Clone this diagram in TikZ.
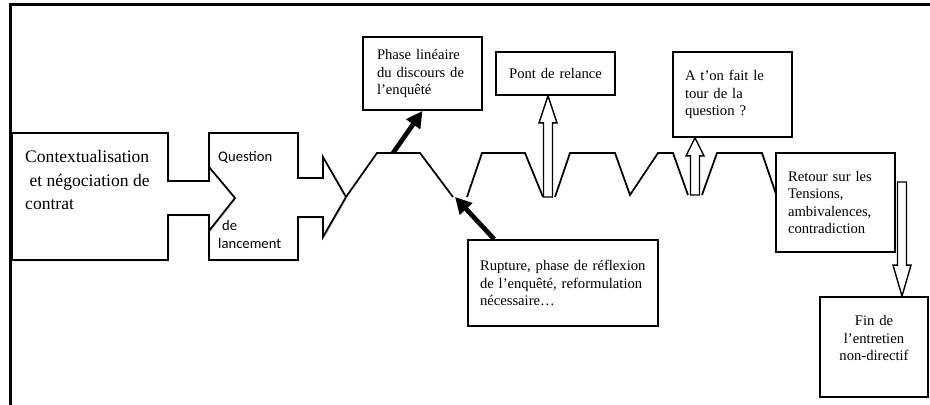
\documentclass[tikz,border=0pt]{standalone}
\usepackage{fontspec}
\setmainfont{Liberation Serif}
\newfontfamily\calibfont{Carlito}
\usetikzlibrary{arrows.meta,calc,shadows}
\tikzset{
  box/.style={draw, line width=1.5pt, fill=white, align=left, inner ysep=0pt,
    font=\fontsize{12.5}{15}\selectfont,
    drop shadow={shadow xshift=1.2pt, shadow yshift=-1.2pt, opacity=0.25}},
  callout/.style={draw, line width=1.5pt, fill=white, line join=miter,
    drop shadow={shadow xshift=1.2pt, shadow yshift=-1.2pt, opacity=0.25}},
  trace/.style={line width=1.5pt, line join=miter},
  blackarrow/.style={line width=4pt, -{Triangle[length=14pt,width=14pt]}},
  hollow/.style={line width=1.2pt, fill=white, line join=miter},
  frameline/.style={line width=2.6pt},
  qtext/.style={anchor=west, inner sep=0pt, font=\calibfont\fontsize{12.5}{15}\selectfont}
}
\newcommand{\hollowarrow}[3]{%
  \draw [hollow] ($(#1)+(-4.5,0)$) -- ($(#2)+(-4.5,#3)$) -- ($(#2)+(-9,#3)$) -- (#2)
    -- ($(#2)+(9,#3)$) -- ($(#2)+(4.5,#3)$) -- ($(#1)+(4.5,0)$) -- cycle ;}
\begin{document}
\begin{tikzpicture}[x=0.03cm, y=-0.03cm]
\useasboundingbox (0,0) rectangle (930,405) ;
\draw [frameline] (930,4.5) -- (10.5,4.5) -- (10.5,405) ;
\draw [callout] (209,133) -- (298,133) -- (298,178) -- (323,178) -- (323,157) -- (346,197) -- (323,237) -- (323,217) -- (298,217) -- (298,260) -- (209,260) -- cycle ;
\draw [callout] (12,133) -- (168,133) -- (168,181) -- (209,181) -- (209,167) -- (235,198) -- (209,231) -- (209,215) -- (168,215) -- (168,260) -- (12,260) -- cycle ;
\node [anchor=west, inner sep=0pt, align=left, font=\fontsize{15}{20}\selectfont] (ctx) at (25,180) {Contextualisation\\\ et négociation de\\contrat} ;
\node [qtext] (q1) at (218,157) {Question} ;
\node [qtext] (q2) at (222,225) {de} ;
\node [qtext] (q3) at (218,243) {lancement} ;
\coordinate (z1) at (393,153) ;
\coordinate (gap) at (455,197) ;
\coordinate (z2) at (548,197) ;
\coordinate (z3) at (695,195) ;
\coordinate (z4) at (902,182) ;
\draw [trace] (346,197) -- (377,153) -- (420,153) -- (453,197) ;
\draw [trace] (467,197) -- (482,153) -- (525,153) -- (543,197) ;
\draw [trace] (555,197) -- (570,153) -- (615,153) -- (630,195) -- (658,153) -- (673,153) -- (688,195) ;
\draw [trace] (702,195) -- (717,153) -- (762,153) -- (777,197) ;
\node [box, text width=2.73cm, inner xsep=0.42cm, minimum height=2.19cm] (phase) at (422.5,73.5) {Phase linéaire\\du discours de\\l’enquêté} ;
\node [box, text width=2.97cm, inner xsep=0.3cm, minimum height=1.29cm, align=center] (pont) at (555.5,73.5) {Pont de relance} ;
\node [box, text width=2.85cm, inner xsep=0.36cm, minimum height=2.55cm] (tour) at (732.5,94.5) {A t’on fait le\\tour de la\\question ?} ;
\node [box, text width=2.85cm, inner xsep=0.36cm, minimum height=2.97cm] (retour) at (835.5,202.5) {Retour sur les\\Tensions,\\ambivalences,\\contradiction} ;
\node [box, text width=4.98cm, inner xsep=0.36cm, minimum height=2.58cm] (rupt) at (563,283) {Rupture, phase de réflexion\\de l’enquêté, reformulation\\nécessaire…} ;
\node [box, text width=2.84cm, inner xsep=0.2cm, minimum height=3cm, align=center] (fin) at (874,347) {Fin de\\l’entretien\\non-directif\\\mbox{}} ;
\coordinate (r0) at ($(rupt.north west)+(27,0)$) ;
\draw [blackarrow] (z1) -- (phase.south) ;
\draw [blackarrow] (r0) -- (gap) ;
\coordinate (t2) at (pont.south -| z2) ;
\coordinate (t3) at (tour.south -| z3) ;
\coordinate (t4) at (fin.north -| z4) ;
\hollowarrow{z2}{t2}{27}
\hollowarrow{z3}{t3}{18}
\hollowarrow{z4}{t4}{-31}
\end{tikzpicture}
\end{document}
